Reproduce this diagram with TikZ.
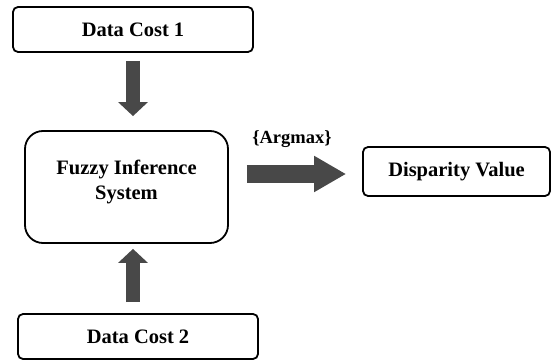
\documentclass[tikz,border=0pt]{standalone}
\usepackage{fontspec}
\setmainfont{Liberation Serif}
\usetikzlibrary{arrows.meta,calc}
\definecolor{arrowgray}{RGB}{72,72,72}
\tikzset{
  x=1pt, y=1pt,
  boxfont/.style={font=\fontsize{20.5}{25}\selectfont\bfseries},
  box/.style={draw=black, line width=1.8pt, rounded corners=5pt, inner sep=0pt,
    boxfont, align=center},
  bigbox/.style={box, rounded corners=18pt},
  vflow/.style={draw=arrowgray, line width=14pt,
    -{Triangle[width=29pt,length=14pt]}},
  hflow/.style={draw=arrowgray, line width=18pt,
    -{Triangle[width=34pt,length=32pt]}},
}
\begin{document}
\begin{tikzpicture}
\useasboundingbox (0,0) rectangle (553,361);

\node[box, minimum width=240, minimum height=45] (dc1) at (133,331.5) {\raisebox{-3pt}{Data Cost 1}};
\node[bigbox, minimum width=203, minimum height=112] (fis) at (126.5,174) {};
\node[boxfont, align=center, inner sep=0pt] (fistxt) at ([yshift=5pt]fis.center)
  {Fuzzy Inference\\System};
\node[box, minimum width=187, minimum height=49] (dv) at (456.5,189.5) {Disparity Value};
\node[box, minimum width=240, minimum height=45] (dc2) at (138,24.5) {Data Cost 2};

% inputs into the inference system
\draw[vflow, shorten <=8pt, shorten >=14pt] (dc1.south) -- (dc1.south |- fis.north);
\draw[vflow, shorten <=11pt, shorten >=5pt] (dc1.south |- dc2.north) -- (dc1.south |- fis.south);

% output towards the disparity value
\coordinate (out) at ([yshift=-2.5pt]dv.west);
\draw[hflow, shorten <=18pt, shorten >=16pt] (fis.east |- out) -- (out);
\node[font=\fontsize{18.5}{22}\selectfont\bfseries] (argmax) at (292,222) {\{Argmax\}};
\end{tikzpicture}
\end{document}
